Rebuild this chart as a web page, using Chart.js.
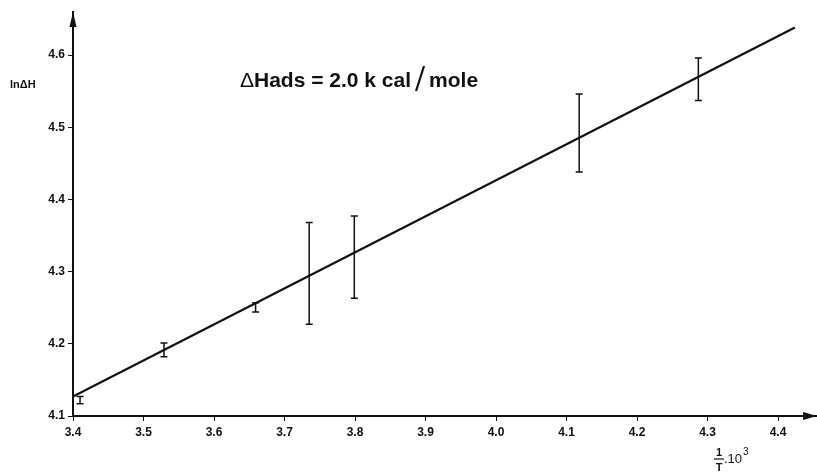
<!DOCTYPE html>
<html>
<head>
<meta charset="utf-8">
<script src="https://cdn.jsdelivr.net/npm/chart.js@4.4.1/dist/chart.umd.min.js"></script>
<style>
  html, body { margin: 0; padding: 0; background: #fff; }
  #wrap { width: 817px; height: 474px; position: relative; }
</style>
</head>
<body>
<div id="wrap"><canvas id="c"></canvas></div>
<script>
// values: x = 1/T * 10^3, y = ln dH
const pointX   = [3.41, 3.529, 3.659, 3.735, 3.799, 4.118, 4.287];
const barLow   = [4.117, 4.182, 4.244, 4.227, 4.263, 4.438, 4.537];
const barHigh  = [4.127, 4.201, 4.257, 4.368, 4.377, 4.546, 4.596];
const fitX     = [3.4, 4.424];
const fitY     = [4.127, 4.638];

const ink = '#111';
const fontFam = '"Liberation Sans", Arial, Helvetica, sans-serif';

// error bars + arrows + text labels
const extras = {
  id: 'extras',
  afterDatasetsDraw(chart) {
    const c = chart.ctx;
    const xs = chart.scales.x, ys = chart.scales.y;
    c.save();
    c.strokeStyle = ink;
    c.lineWidth = 1.5;
    pointX.forEach((v, i) => {
      const px = xs.getPixelForValue(v);
      const top = ys.getPixelForValue(barHigh[i]);
      const bot = ys.getPixelForValue(barLow[i]);
      c.beginPath();
      c.moveTo(px, top); c.lineTo(px, bot);
      c.moveTo(px - 3.5, top); c.lineTo(px + 3.5, top);
      c.moveTo(px - 3.5, bot); c.lineTo(px + 3.5, bot);
      c.stroke();
    });
    c.restore();
  },
  afterDraw(chart) {
    const c = chart.ctx;
    const a = chart.chartArea;
    c.save();
    c.fillStyle = ink;
    c.strokeStyle = ink;

    // arrow heads
    c.beginPath();
    c.moveTo(a.right, a.bottom);
    c.lineTo(a.right - 14, a.bottom - 4);
    c.lineTo(a.right - 14, a.bottom + 4);
    c.closePath(); c.fill();
    c.beginPath();
    c.moveTo(a.left, a.top);
    c.lineTo(a.left - 3.5, a.top + 15);
    c.lineTo(a.left + 3.5, a.top + 15);
    c.closePath(); c.fill();

    // y label
    c.textBaseline = 'alphabetic';
    c.textAlign = 'left';
    c.font = 'bold 11px ' + fontFam;
    c.fillText('ln\u0394H', 10, 88);

    // title  "ΔHads = 2.0 k cal / mole"
    let x = 240;
    const base = 87;
    c.font = '21px ' + fontFam;
    c.fillText('\u0394', x, base);
    x += c.measureText('\u0394').width;
    c.font = 'bold 21px ' + fontFam;
    const s1 = 'Hads = 2.0 k cal';
    c.fillText(s1, x, base);
    x += c.measureText(s1).width + 5;
    c.lineWidth = 2.2;
    c.beginPath();
    c.moveTo(x, base + 4);
    c.lineTo(x + 8, base - 21);
    c.stroke();
    x += 13;
    c.fillText('mole', x, base);

    // x label  1/T .10^3
    c.font = 'bold 11px ' + fontFam;
    c.textAlign = 'center';
    c.fillText('1', 719, 456);
    c.lineWidth = 1.2;
    c.beginPath(); c.moveTo(714, 459); c.lineTo(724, 459); c.stroke();
    c.fillText('T', 719, 471);
    c.textAlign = 'left';
    c.font = '13px ' + fontFam;
    c.fillText('.10', 724, 463);
    x = 724 + c.measureText('.10').width + 1;
    c.font = '10px ' + fontFam;
    c.fillText('3', x, 455);
    c.restore();
  }
};

const tickFont = { family: fontFam, size: 12, weight: 'bold' };

new Chart(document.getElementById('c'), {
  type: 'scatter',
  data: {
    datasets: [{
      type: 'line',
      data: fitX.map((v, i) => ({ x: v, y: fitY[i] })),
      borderColor: ink,
      borderWidth: 2.2,
      pointRadius: 0,
      fill: false,
      tension: 0
    }]
  },
  options: {
    responsive: true,
    maintainAspectRatio: false,
    animation: false,
    layout: { padding: { top: 12, right: 0, left: 0, bottom: 0 } },
    plugins: { legend: { display: false }, tooltip: { enabled: false } },
    scales: {
      x: {
        type: 'linear',
        min: 3.4,
        max: 4.4553,
        afterFit(scale) { scale.height = 58; },
        border: { display: true, color: ink, width: 2 },
        grid: { display: true, drawOnChartArea: false, drawTicks: true, tickLength: 5, color: ink, lineWidth: 1 },
        ticks: {
          stepSize: 0.1,
          includeBounds: false,
          color: ink,
          font: tickFont,
          padding: 4,
          maxRotation: 0,
          callback: v => Number(v).toFixed(1)
        }
      },
      y: {
        type: 'linear',
        min: 4.1,
        max: 4.6596,
        afterFit(scale) { scale.width = 73; },
        border: { display: true, color: ink, width: 2 },
        grid: { display: true, drawOnChartArea: false, drawTicks: true, tickLength: 5, color: ink, lineWidth: 1 },
        ticks: {
          stepSize: 0.1,
          includeBounds: false,
          color: ink,
          font: tickFont,
          padding: 3,
          callback: v => Number(v).toFixed(1)
        }
      }
    }
  },
  plugins: [extras]
});
</script>
</body>
</html>
